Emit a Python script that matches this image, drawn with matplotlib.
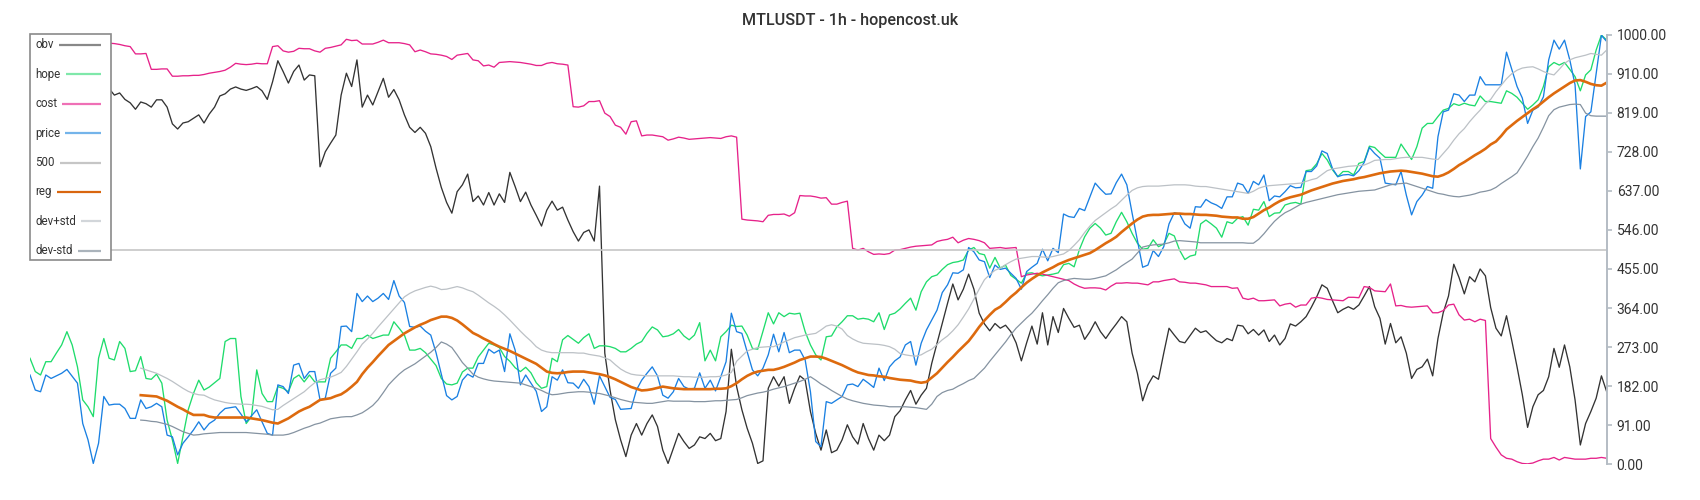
import numpy as np
import matplotlib
matplotlib.use("Agg")
import matplotlib.pyplot as plt
from matplotlib.lines import Line2D
from matplotlib.patches import Rectangle

plt.rcParams['font.family'] = ['Roboto', 'DejaVu Sans']

title = "MTLUSDT - 1h - hopencost.uk"
nan = np.nan

obv = [
    900, 905, 895, 890, 898, 885, 880, 890, 884, 878,
    886, 880, 876, 882, 879, 875, 860, 865, 850, 842,
    827, 844, 840, 832, 849, 849, 832, 793, 781, 795,
    798, 806, 814, 795, 816, 832, 858, 863, 874, 879,
    874, 871, 875, 880, 870, 850, 891, 940, 915, 888,
    915, 930, 895, 907, 905, 693, 728, 748, 767, 860,
    911, 880, 942, 832, 860, 837, 868, 899, 855, 873,
    849, 814, 785, 773, 785, 771, 740, 690, 645, 610,
    585, 635, 651, 676, 612, 625, 604, 633, 604, 630,
    610, 680, 647, 612, 634, 604, 580, 555, 592, 613,
    592, 599, 569, 542, 520, 540, 546, 520, 648, 259,
    173, 104, 57, 18, 68, 95, 68, 95, 115, 88,
    33, 2, 37, 72, 53, 37, 45, 64, 60, 72,
    55, 60, 123, 268, 181, 127, 84, 49, 2, 8,
    177, 204, 182, 204, 142, 177, 206, 196, 123, 72,
    33, 80, 27, 33, 57, 92, 64, 47, 95, 60,
    33, 68, 55, 68, 111, 125, 150, 172, 140, 161,
    177, 235, 282, 328, 375, 420, 383, 408, 443, 408,
    352, 327, 311, 328, 317, 324, 309, 283, 241, 283,
    322, 280, 353, 278, 344, 307, 363, 340, 319, 324,
    291, 309, 332, 309, 293, 311, 327, 344, 332, 259,
    212, 148, 185, 206, 198, 259, 317, 301, 286, 283,
    300, 317, 307, 311, 299, 288, 283, 293, 288, 324,
    322, 304, 314, 301, 313, 286, 301, 278, 293, 327,
    322, 332, 344, 366, 390, 418, 410, 381, 353, 361,
    367, 361, 371, 392, 414, 367, 340, 280, 328, 283,
    297, 259, 200, 221, 227, 245, 206, 293, 353, 392,
    466, 435, 397, 437, 425, 455, 439, 365, 317, 299,
    346, 288, 227, 162, 86, 134, 162, 172, 204, 270,
    226, 278, 227, 150, 45, 95, 123, 154, 206, 169,
]

hope = [
    247, 216, 208, 239, 239, 259, 278, 309, 278, 227,
    150, 134, 111, 247, 293, 247, 243, 286, 270, 216,
    218, 251, 200, 198, 210, 189, 103, 57, 2, 64,
    127, 165, 196, 173, 180, 190, 200, 286, 293, 293,
    158, 95, 111, 220, 165, 146, 146, 181, 177, 169,
    200, 208, 192, 208, 192, 192, 192, 247, 262, 278,
    278, 270, 293, 293, 301, 293, 297, 301, 301, 332,
    317, 301, 266, 266, 270, 260, 245, 230, 200, 187,
    185, 189, 215, 224, 224, 250, 266, 282, 278, 272,
    251, 240, 225, 216, 226, 213, 190, 177, 181, 247,
    239, 290, 300, 291, 282, 295, 304, 270, 276, 276,
    274, 270, 262, 262, 270, 280, 286, 305, 320, 313,
    297, 299, 304, 314, 299, 290, 301, 330, 241, 266,
    241, 297, 309, 324, 321, 322, 301, 270, 268, 310,
    353, 327, 353, 344, 352, 350, 352, 309, 278, 255,
    243, 297, 299, 320, 332, 346, 346, 338, 340, 338,
    332, 353, 314, 348, 352, 362, 375, 387, 359, 402,
    425, 437, 441, 454, 465, 470, 472, 476, 499, 505,
    491, 488, 457, 482, 457, 464, 440, 431, 422, 445,
    446, 442, 439, 441, 443, 446, 465, 468, 460, 500,
    530, 550, 561, 550, 534, 538, 565, 587, 565, 538,
    515, 501, 503, 523, 507, 513, 538, 532, 499, 477,
    485, 488, 560, 569, 560, 550, 529, 565, 561, 573,
    577, 557, 594, 592, 612, 577, 585, 586, 604, 608,
    610, 606, 684, 686, 700, 724, 709, 686, 670, 682,
    682, 674, 701, 705, 741, 738, 726, 715, 715, 715,
    746, 728, 710, 740, 783, 794, 794, 810, 825, 829,
    840, 836, 841, 837, 835, 858, 845, 845, 843, 841,
    870, 864, 855, 841, 827, 837, 849, 880, 926, 936,
    930, 936, 920, 903, 870, 907, 919, 965, 1000, 988,
]

cost = [
    1002, 998, 996, 995, 993, 992, 990, 990, 988, 987,
    986, 985, 984, 983, 982, 981, 980, 978, 975, 973,
    956, 956, 957, 920, 920, 921, 921, 904, 904, 905,
    905, 906, 906, 908, 911, 913, 915, 918, 925, 934,
    932, 931, 932, 934, 933, 933, 973, 975, 963, 960,
    962, 969, 968, 968, 963, 960, 969, 971, 974, 977,
    990, 987, 988, 979, 979, 979, 983, 988, 982, 982,
    982, 980, 977, 961, 965, 961, 956, 955, 953, 950,
    943, 953, 955, 957, 942, 940, 928, 930, 925, 936,
    937, 938, 937, 936, 934, 932, 929, 929, 934, 936,
    933, 932, 930, 833, 832, 835, 845, 845, 847, 818,
    810, 790, 785, 769, 798, 800, 765, 767, 767, 765,
    763, 755, 758, 762, 760, 757, 758, 759, 760, 761,
    760, 759, 763, 765, 762, 571, 569, 568, 567, 565,
    580, 582, 582, 583, 578, 586, 626, 625, 625, 623,
    620, 621, 606, 606, 610, 613, 503, 499, 503, 495,
    489, 490, 489, 491, 499, 500, 503, 506, 508, 509,
    510, 511, 519, 522, 524, 529, 516, 522, 526, 524,
    521, 516, 503, 504, 505, 503, 504, 505, 437, 441,
    443, 445, 443, 440, 437, 434, 431, 428, 420, 414,
    410, 411, 411, 410, 406, 415, 422, 422, 423, 422,
    422, 420, 418, 425, 425, 428, 430, 432, 425, 424,
    422, 422, 420, 418, 414, 414, 414, 414, 410, 411,
    387, 384, 387, 381, 381, 382, 383, 369, 373, 375,
    366, 371, 371, 387, 389, 387, 384, 383, 382, 381,
    389, 389, 388, 414, 412, 404, 403, 402, 420, 369,
    370, 367, 366, 367, 368, 369, 353, 353, 358, 371,
    373, 348, 336, 338, 332, 338, 335, 60, 40, 22,
    14, 12, 6, 2, 1, 3, 8, 12, 12, 16,
    10, 16, 14, 12, 12, 12, 14, 14, 16, 14,
]

price = [
    208, 173, 169, 208, 200, 206, 212, 221, 205, 189,
    95, 57, 2, 49, 158, 138, 140, 140, 130, 107,
    107, 150, 130, 134, 142, 134, 68, 64, 22, 49,
    64, 80, 99, 80, 95, 103, 119, 130, 132, 134,
    117, 99, 113, 127, 99, 72, 68, 185, 181, 165,
    231, 235, 200, 216, 216, 150, 154, 212, 224, 321,
    322, 309, 398, 379, 392, 379, 387, 398, 384, 428,
    392, 377, 321, 319, 322, 310, 301, 260, 210, 160,
    150, 158, 196, 210, 203, 235, 235, 268, 259, 266,
    216, 304, 266, 185, 208, 189, 170, 123, 134, 204,
    196, 220, 190, 189, 177, 198, 181, 140, 206, 181,
    156, 151, 128, 129, 130, 173, 196, 212, 227, 206,
    161, 154, 169, 200, 181, 175, 177, 213, 177, 196,
    171, 204, 239, 352, 309, 305, 262, 220, 206, 224,
    255, 303, 262, 307, 260, 266, 266, 243, 169, 53,
    41, 146, 142, 150, 158, 185, 187, 181, 198, 189,
    179, 224, 195, 227, 241, 250, 278, 286, 231, 282,
    313, 336, 359, 400, 418, 446, 445, 453, 505, 495,
    476, 472, 435, 464, 454, 457, 445, 433, 408, 449,
    459, 468, 501, 474, 503, 493, 583, 577, 575, 596,
    591, 623, 655, 641, 629, 630, 656, 676, 651, 585,
    522, 459, 464, 498, 484, 507, 560, 586, 583, 560,
    550, 600, 599, 617, 609, 604, 596, 623, 623, 655,
    651, 631, 659, 651, 674, 614, 625, 623, 635, 649,
    644, 645, 682, 682, 695, 730, 724, 689, 670, 674,
    675, 672, 684, 703, 738, 724, 713, 655, 653, 651,
    682, 627, 581, 612, 627, 647, 643, 763, 821, 825,
    863, 860, 845, 860, 860, 903, 884, 884, 884, 884,
    960, 920, 880, 853, 794, 825, 832, 856, 942, 988,
    967, 988, 942, 884, 688, 810, 821, 910, 999, 985,
]

reg = [
    nan, nan, nan, nan, nan, nan, nan, nan, nan, nan,
    nan, nan, nan, nan, nan, nan, nan, nan, nan, nan,
    nan, 161, 160, 159, 158, 153, 148, 141, 134, 128,
    121, 115, 115, 115, 111, 109, 109, 109, 109, 109,
    109, 109, 107, 105, 103, 100, 97, 95, 101, 107,
    115, 123, 129, 134, 142, 150, 152, 154, 159, 163,
    171, 181, 192, 210, 225, 238, 252, 265, 278, 287,
    296, 305, 312, 319, 325, 330, 336, 340, 344, 344,
    341, 335, 326, 316, 306, 300, 293, 287, 280, 274,
    269, 264, 258, 252, 246, 240, 234, 225, 216, 213,
    212, 213, 215, 216, 216, 216, 214, 212, 210, 207,
    203, 198, 192, 186, 180, 176, 172, 173, 175, 178,
    181, 179, 177, 176, 175, 175, 175, 175, 175, 175,
    176, 176, 177, 182, 189, 198, 206, 212, 216, 218,
    220, 220, 223, 227, 232, 237, 243, 247, 251, 251,
    250, 246, 241, 236, 231, 225, 219, 214, 211, 208,
    207, 205, 204, 201, 199, 197, 196, 195, 192, 190,
    192, 202, 212, 225, 238, 250, 263, 275, 287, 303,
    320, 335, 348, 360, 367, 378, 390, 400, 412, 423,
    432, 440, 447, 453, 459, 466, 471, 476, 480, 484,
    488, 492, 499, 507, 515, 522, 530, 541, 551, 561,
    570, 577, 580, 581, 581, 582, 583, 584, 584, 583,
    583, 582, 581, 581, 580, 579, 577, 576, 575, 575,
    572, 572, 576, 584, 592, 598, 606, 613, 618, 622,
    625, 628, 633, 638, 642, 646, 650, 654, 657, 660,
    662, 664, 667, 669, 672, 675, 678, 680, 682, 683,
    684, 683, 681, 679, 677, 674, 671, 670, 674, 680,
    688, 697, 704, 712, 720, 727, 735, 745, 752, 765,
    780, 790, 800, 809, 818, 827, 835, 845, 855, 864,
    872, 880, 888, 894, 895, 891, 886, 883, 882, 889,
]

dev_plus = [
    nan, nan, nan, nan, nan, nan, nan, nan, nan, nan,
    nan, nan, nan, nan, nan, nan, nan, nan, nan, nan,
    nan, 224, 220, 216, 212, 206, 200, 193, 185, 177,
    170, 165, 162, 161, 155, 150, 147, 144, 142, 141,
    140, 140, 139, 137, 135, 131, 127, 128, 137, 145,
    153, 161, 169, 180, 190, 197, 200, 203, 208, 214,
    228, 245, 262, 280, 292, 305, 320, 334, 348, 362,
    376, 390, 398, 404, 408, 412, 415, 412, 407, 408,
    411, 414, 411, 406, 402, 394, 385, 376, 368, 359,
    348, 336, 323, 310, 298, 287, 274, 266, 262, 260,
    260, 260, 260, 260, 259, 259, 256, 254, 252, 248,
    243, 232, 222, 215, 210, 208, 207, 206, 206, 206,
    206, 206, 206, 205, 204, 204, 203, 203, 203, 204,
    204, 205, 208, 214, 240, 252, 264, 268, 272, 273,
    274, 274, 279, 285, 290, 295, 298, 301, 303, 305,
    313, 322, 325, 322, 315, 300, 292, 286, 282, 281,
    280, 279, 277, 274, 268, 258, 255, 253, 252, 255,
    262, 268, 279, 290, 299, 311, 325, 343, 362, 385,
    408, 430, 442, 452, 457, 465, 472, 478, 480, 482,
    484, 484, 483, 482, 484, 487, 490, 498, 510, 523,
    540, 555, 568, 577, 586, 595, 603, 615, 627, 638,
    644, 647, 648, 648, 648, 649, 650, 651, 651, 651,
    650, 648, 647, 647, 645, 643, 641, 639, 637, 635,
    633, 631, 636, 643, 647, 649, 650, 651, 652, 653,
    654, 655, 659, 663, 666, 675, 684, 688, 690, 692,
    694, 695, 696, 697, 702, 708, 709, 710, 710, 712,
    714, 715, 715, 715, 715, 713, 711, 710, 724, 738,
    755, 770, 782, 798, 812, 825, 840, 850, 868, 883,
    898, 910, 918, 923, 925, 926, 921, 915, 910, 907,
    920, 934, 942, 947, 950, 953, 957, 955, 953, 965,
]

dev_minus = [
    nan, nan, nan, nan, nan, nan, nan, nan, nan, nan,
    nan, nan, nan, nan, nan, nan, nan, nan, nan, nan,
    nan, 103, 102, 100, 99, 96, 93, 88, 82, 76,
    72, 68, 69, 71, 72, 73, 74, 74, 74, 74,
    74, 74, 73, 72, 71, 70, 68, 68, 68, 70,
    74, 79, 84, 88, 93, 96, 101, 106, 108, 110,
    111, 111, 115, 120, 128, 137, 150, 167, 185, 198,
    210, 220, 227, 234, 243, 252, 261, 272, 285, 280,
    272, 255, 237, 224, 210, 203, 199, 196, 194, 193,
    192, 191, 190, 189, 185, 181, 177, 172, 166, 162,
    163, 165, 167, 168, 169, 169, 168, 166, 165, 162,
    159, 155, 151, 148, 145, 144, 143, 142, 142, 144,
    146, 148, 147, 147, 147, 147, 146, 146, 146, 147,
    148, 148, 149, 150, 151, 155, 160, 163, 166, 168,
    171, 175, 178, 181, 185, 189, 193, 198, 204, 196,
    187, 180, 172, 165, 158, 152, 148, 145, 142, 140,
    138, 137, 136, 134, 134, 134, 134, 133, 132, 130,
    128, 140, 158, 167, 172, 175, 182, 188, 195, 200,
    212, 224, 240, 255, 270, 285, 302, 317, 329, 341,
    352, 366, 381, 395, 410, 423, 428, 431, 433, 432,
    431, 431, 433, 436, 439, 446, 453, 462, 470, 478,
    492, 506, 509, 511, 512, 513, 516, 520, 521, 520,
    519, 518, 516, 516, 516, 516, 516, 516, 516, 516,
    516, 515, 515, 524, 537, 552, 566, 577, 586, 592,
    599, 606, 610, 613, 616, 619, 622, 625, 628, 630,
    632, 634, 636, 637, 638, 639, 643, 647, 651, 653,
    654, 655, 651, 647, 643, 639, 635, 631, 629, 626,
    624, 623, 625, 627, 630, 634, 636, 639, 645, 654,
    662, 670, 679, 698, 718, 740, 760, 785, 812, 826,
    832, 835, 838, 839, 838, 818, 812, 811, 811, 811,
]

ref_level = 500
yticks = [0, 91, 182, 273, 364, 455, 546, 637, 728, 819, 910, 1000]
legend_labels = ["obv", "hope", "cost", "price", "500", "reg", "dev+std", "dev-std"]

series = [obv, hope, cost, price, reg, dev_plus, dev_minus]
for s in series:
    assert len(s) == len(price), len(s)

# ---------------- figure ----------------
W, H = 1700, 500
fig = plt.figure(figsize=(W / 100, H / 100), dpi=100)
ax_left, ax_right, ax_top, ax_bottom = 30, 1606.7, 35, 464.3
ax = fig.add_axes([ax_left / W, 1 - ax_bottom / H,
                   (ax_right - ax_left) / W, (ax_bottom - ax_top) / H])

t = np.arange(len(price))
line_colors = {
    "obv": "#333333", "hope": "#1fdc6c", "cost": "#e6228a", "price": "#1a80e2",
    "500": "#c6c6c6", "reg": "#dd6a0e", "dev+std": "#bcc1c6", "dev-std": "#8593a1",
}
ax.plot(t, obv, color=line_colors["obv"], lw=0.95)
ax.plot(t, hope, color=line_colors["hope"], lw=0.95)
ax.plot(t, cost, color=line_colors["cost"], lw=0.95)
ax.plot(t, price, color=line_colors["price"], lw=0.95)
ax.axhline(ref_level, color=line_colors["500"], lw=1.2)
ax.plot(t, reg, color=line_colors["reg"], lw=1.9)
ax.plot(t, dev_plus, color=line_colors["dev+std"], lw=0.9)
ax.plot(t, dev_minus, color=line_colors["dev-std"], lw=0.9)

ax.set_xlim(0, len(t) - 1)
ax.set_ylim(0, 1000)
ax.set_xticks([])
ax.set_yticks(yticks)
ax.set_yticklabels([f"{v:.2f}" for v in yticks])
ax.yaxis.tick_right()
ax.tick_params(axis="y", right=True, left=False, labelright=True, labelleft=False,
               length=3.6, width=1.2, color="#b4bcc4", labelsize=10,
               labelcolor="#333333", pad=3.6)
for side in ("left", "top", "bottom"):
    ax.spines[side].set_visible(False)
ax.spines["right"].set_color("#b4bcc4")
ax.spines["right"].set_linewidth(1.4)
ax.patch.set_alpha(0)

fig.text(0.5, 1 - 20.5 / H, title, ha="center", va="center",
         fontsize=11.6, color="#333333", fontweight="medium")

# ---------------- legend (boxed, label left, line right) ----------------
leg_colors = ["#888888", "#7fe8aa", "#ef70b6", "#74b4ea", "#c6c6c6", "#d9660f",
              "#d2d6da", "#aab3bb"]
box_x0, box_x1, box_y0, box_y1 = 29.5, 111, 34, 260
fig.add_artist(Rectangle((box_x0 / W, 1 - box_y1 / H), (box_x1 - box_x0) / W,
                         (box_y1 - box_y0) / H, transform=fig.transFigure,
                         facecolor="white", edgecolor="#8a8a8a", lw=1.2, zorder=10))
row_y0, row_step = 45.0, 29.4
texts = []
for i, lab in enumerate(legend_labels):
    yc = row_y0 + i * row_step
    txt = fig.text(35.3 / W, 1 - yc / H, lab, ha="left", va="center",
                   fontsize=8.3, color="#333333", zorder=11)
    texts.append((txt, yc))
fig.canvas.draw()
renderer = fig.canvas.get_renderer()
for (txt, yc), col in zip(texts, leg_colors):
    bb = txt.get_window_extent(renderer)
    x_start = bb.x1 + 5
    fig.add_artist(Line2D([x_start / W, 100.7 / W], [1 - yc / H, 1 - yc / H],
                          transform=fig.transFigure, color=col, lw=1.6,
                          zorder=11, solid_capstyle="butt"))

fig.savefig("out.png", dpi=100)
